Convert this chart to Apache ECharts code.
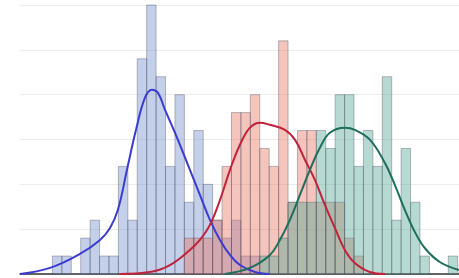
<!DOCTYPE html>
<html>
<head>
<meta charset="utf-8">
<script src="https://cdn.jsdelivr.net/npm/echarts@6/dist/echarts.min.js"></script>
<style>
html, body { margin: 0; padding: 0; background: #fff; }
#chart { width: 459px; height: 278px; }
</style>
</head>
<body>
<div id="chart"></div>
<script>
// counts per bin, bin k covers [k, k+1]
var blueCounts  = [1,1,0,2,3,1,1,6,3,12,15,11,6,10,4,8,5,3,2,3,1,1,0,0,0,0,0,0,0,0,0,0,0,0,0,0,0,0,0,0,0,0,0];
var redCounts   = [0,0,0,0,0,0,0,0,0,0,0,0,0,0,2,2,2,3,6,9,9,10,7,6,13,4,8,8,4,4,4,2,1,0,0,0,0,0,0,0,0,0,0];
var greenCounts = [0,0,0,0,0,0,0,0,0,0,0,0,0,0,0,0,0,0,0,0,0,0,1,1,2,4,4,4,8,7,10,10,6,8,6,11,3,7,4,1,0,0,1];

// smoothed density curves (bin units, count units)
var blueKde = [[-3.44,0],[-0.26,0.34],[2.92,1.12],[5.05,1.9],[6.11,2.57],[6.95,3.58],[7.91,5.81],[8.87,8.04],
  [9.82,9.83],[10.56,10.28],[11.2,10.1],[11.94,9.16],[13.0,7.88],[14.59,5.81],[15.65,4.41],[16.71,3.02],
  [17.78,1.9],[18.84,1.06],[19.9,0.5],[21.5,0.11],[23,0]];
var redKde = [[7.16,0],[10.35,0.11],[12.47,0.5],[14.59,1.34],[15.65,1.9],[16.71,2.74],[17.78,4.13],[18.84,5.81],
  [19.9,7.21],[20.96,8.16],[22.02,8.44],[23.08,8.32],[24.67,8.04],[25.73,7.49],[26.79,6.37],[27.85,5.25],
  [28.91,3.85],[29.97,2.57],[31.03,1.34],[32.09,0.61],[33.68,0.11],[35.3,0]];
var greenKde = [[18.3,0],[20.96,0.34],[23.08,1.06],[24.14,1.9],[25.2,3.02],[26.26,4.41],[27.32,5.81],[28.38,7.04],
  [29.44,7.88],[31.03,8.16],[32.09,8.04],[33.68,7.49],[35.27,6.2],[36.33,4.97],[37.39,3.58],[38.45,2.35],
  [39.51,1.45],[41.1,0.67],[43.14,0.22]];

function toBins(counts) {
  var out = [];
  for (var i = 0; i < counts.length; i++) {
    if (counts[i] > 0) out.push([i, counts[i]]);
  }
  return out;
}

function histSeries(counts, fill) {
  return {
    type: 'custom',
    silent: true,
    renderItem: function (params, api) {
      var x0 = api.value(0);
      var p0 = api.coord([x0, 0]);
      var p1 = api.coord([x0 + 1, api.value(1)]);
      return {
        type: 'rect',
        shape: { x: p0[0], y: p1[1], width: p1[0] - p0[0], height: p0[1] - p1[1] },
        style: { fill: fill, stroke: 'rgba(80,85,100,0.4)', lineWidth: 1 }
      };
    },
    data: toBins(counts)
  };
}

function kdeSeries(data, color) {
  return {
    type: 'line',
    data: data,
    smooth: 0.4,
    showSymbol: false,
    silent: true,
    lineStyle: { color: color, width: 2 }
  };
}

var myChart = echarts.init(document.getElementById('chart'));
var option = {
  animation: false,
  grid: { left: 20, right: 0, top: 5, bottom: 4 },
  xAxis: {
    type: 'value',
    min: -3.44,
    max: 43.14,
    axisLine: { show: true, lineStyle: { color: '#333', width: 1.5 } },
    axisTick: { show: false },
    axisLabel: { show: false },
    splitLine: { show: false }
  },
  yAxis: {
    type: 'value',
    min: 0,
    max: 15,
    interval: 2.5,
    axisLine: { show: false },
    axisTick: { show: false },
    axisLabel: { show: false },
    splitLine: { show: true, lineStyle: { color: '#ededed', width: 1 } }
  },
  series: [
    histSeries(blueCounts, 'rgba(100,128,200,0.38)'),
    histSeries(redCounts, 'rgba(232,115,95,0.42)'),
    histSeries(greenCounts, 'rgba(85,168,150,0.43)'),
    kdeSeries(blueKde, '#3b3bd0'),
    kdeSeries(redKde, '#c0223a'),
    kdeSeries(greenKde, '#1d6e5a')
  ]
};
myChart.setOption(option);
</script>
</body>
</html>
